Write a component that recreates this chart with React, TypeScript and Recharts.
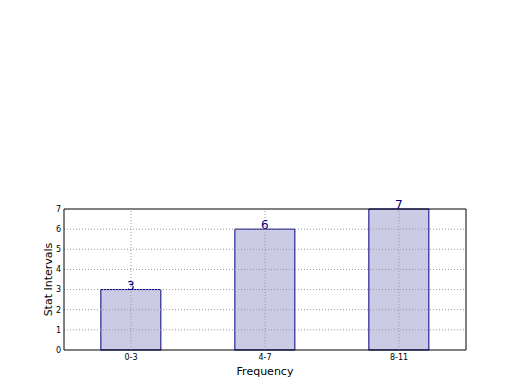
import { Bar, BarChart, LabelList, ReferenceLine, XAxis, YAxis } from "recharts";

const categories = ["0-3", "4-7", "8-11"];
const counts = [3, 6, 7];
const yTicks = [0, 1, 2, 3, 4, 5, 6, 7];

const data = categories.map((name, i) => ({ name, count: counts[i] }));

const font = "DejaVu Sans, sans-serif";
const gridStyle = { stroke: "#999", strokeDasharray: "1 2" };

export default function App() {
  return (
    <div style={{ position: "absolute", left: 0, top: 0, background: "#fff" }}>
      <BarChart
        width={520}
        height={390}
        data={data}
        margin={{ top: 208, right: 53, bottom: 0, left: 0 }}
        barCategoryGap="27.5%"
        style={{ fontFamily: font }}
      >
        <XAxis
          dataKey="name"
          height={40}
          tickLine={false}
          tickSize={0}
          axisLine={{ stroke: "#000" }}
          tick={{ fontSize: 8, fill: "#000" }}
          tickMargin={4}
          label={{ value: "Frequency", position: "insideBottom", offset: 15, fontSize: 11, fill: "#000" }}
        />
        <XAxis xAxisId="top" dataKey="name" orientation="top" height={1} tick={false} tickLine={false} axisLine={{ stroke: "#000" }} />
        <YAxis
          width={64}
          domain={[0, 7]}
          ticks={yTicks}
          interval={0}
          tickLine={false}
          tickSize={0}
          axisLine={{ stroke: "#000" }}
          tick={{ fontSize: 8, fill: "#000" }}
          tickMargin={3}
          label={{ value: "Stat Intervals", angle: -90, position: "insideLeft", offset: 48, fontSize: 11, fill: "#000", style: { textAnchor: "middle" } }}
        />
        <YAxis yAxisId="right" orientation="right" width={1} domain={[0, 7]} tick={false} tickLine={false} axisLine={{ stroke: "#000" }} />
        <Bar dataKey="count" fill="#cbcbe5" stroke="#000080" strokeWidth={1} isAnimationActive={false}>
          <LabelList dataKey="count" position="top" offset={0} fill="#000080" fontSize={12} />
        </Bar>
        {yTicks.slice(1, -1).map((t) => (
          <ReferenceLine key={"y" + t} y={t} {...gridStyle} />
        ))}
        {categories.map((c) => (
          <ReferenceLine key={"x" + c} x={c} {...gridStyle} />
        ))}
      </BarChart>
    </div>
  );
}
